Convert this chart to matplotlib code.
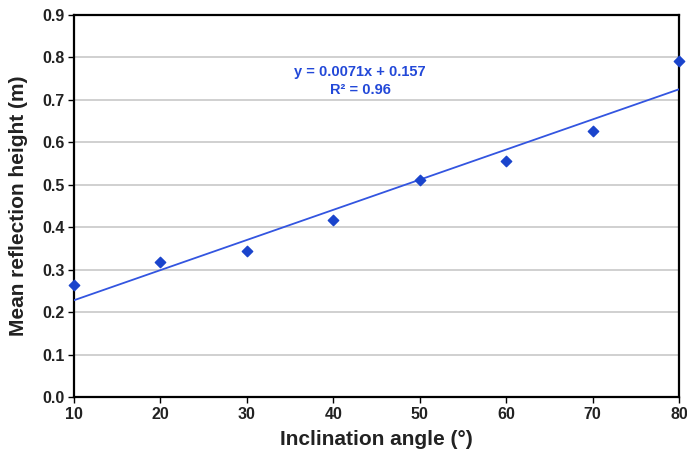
import matplotlib
matplotlib.use('Agg')
import matplotlib.pyplot as plt
import numpy as np

plt.rcParams['font.family'] = ['Liberation Sans', 'DejaVu Sans']

# data
angle = [10, 20, 30, 40, 50, 60, 70, 80]
height = [0.264, 0.318, 0.344, 0.417, 0.511, 0.556, 0.627, 0.792]
slope = 0.0071
intercept = 0.157
r2 = 0.96
xticks = [10, 20, 30, 40, 50, 60, 70, 80]
yticks = [0.0, 0.1, 0.2, 0.3, 0.4, 0.5, 0.6, 0.7, 0.8, 0.9]

fig = plt.figure(figsize=(6.87, 4.66), dpi=100)
ax = fig.add_axes([0.1077, 0.148, 0.8807, 0.8198])

xfit = np.array([angle[0], angle[-1]])
ax.plot(xfit, slope * xfit + intercept, color='#3355e0', lw=1.3, zorder=3)
ax.scatter(angle, height, marker='D', s=28, color='#1a44cc', zorder=4, clip_on=False)

ax.set_xlim(10, 80)
ax.set_ylim(0, 0.9)
ax.set_xticks(xticks)
ax.set_yticks(yticks)
ax.set_yticklabels(['%.1f' % v for v in yticks])
ax.yaxis.grid(True, color='#c8c8c8', lw=1.2)
ax.set_axisbelow(True)
for s in ax.spines.values():
    s.set_linewidth(1.6)
    s.set_color('black')
ax.tick_params(axis='both', direction='out', length=4, width=1, labelsize=11.5, pad=3)
for lab in ax.get_xticklabels() + ax.get_yticklabels():
    lab.set_fontweight('bold')
    lab.set_color('#222222')

ax.set_xlabel('Inclination angle (°)', fontsize=15, fontweight='bold', labelpad=6, color='#222222')
ax.set_ylabel('Mean reflection height (m)', fontsize=15, fontweight='bold', labelpad=10, color='#222222')

ax.text(0.473, 0.827, 'y = %.4fx + %.3f\nR² = %.2f' % (slope, intercept, r2),
        transform=ax.transAxes, ha='center', va='center', color='#2248d8',
        fontsize=10.5, fontweight='bold', linespacing=1.35)

fig.savefig('out.png', dpi=100)
